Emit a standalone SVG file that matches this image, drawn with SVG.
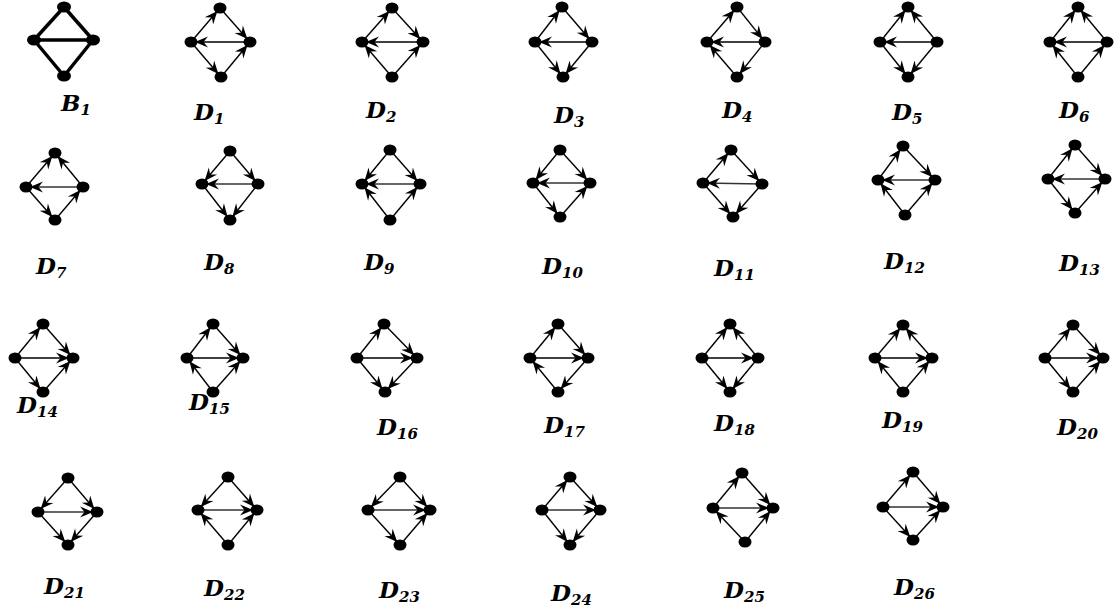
<svg xmlns="http://www.w3.org/2000/svg" width="1120" height="610" viewBox="0 0 1120 610">
<style>
.e{stroke:#000;stroke-width:1.4;fill:none;marker-end:url(#ah)}
.h{stroke:#333;stroke-width:1.4;fill:none;marker-end:url(#ah)}
.t{stroke:#000;stroke-width:3.5;fill:none}
.n{fill:#000}
.lb{font-family:"DejaVu Serif","Liberation Serif",serif;font-weight:bold;font-style:italic;font-size:23px;fill:#000}
.sb{font-size:15px}
</style>
<defs>
<marker id="ah" viewBox="-14 -7 16 14" markerWidth="16" markerHeight="14" refX="4" refY="0" orient="auto" markerUnits="userSpaceOnUse">
<path d="M0,0 L-13,-5.5 L-8.5,0 L-13,5.5 Z" fill="#000"/>
</marker>
</defs>
<g id="connectors">
<line class="t" x1="34" y1="40" x2="64" y2="7"/><line class="t" x1="64" y1="7" x2="93" y2="40"/><line class="t" x1="34" y1="40" x2="93" y2="40"/><line class="t" x1="34" y1="40" x2="64" y2="76"/><line class="t" x1="64" y1="76" x2="93" y2="40"/>
<line class="e" x1="191" y1="42" x2="220" y2="8"/><line class="e" x1="220" y1="8" x2="250" y2="42"/><line class="e" x1="250" y1="42" x2="191" y2="42"/><line class="e" x1="191" y1="42" x2="221" y2="77"/><line class="e" x1="221" y1="77" x2="250" y2="42"/>
<line class="e" x1="362" y1="42" x2="392" y2="8"/><line class="e" x1="392" y1="8" x2="423" y2="42"/><line class="e" x1="423" y1="42" x2="362" y2="42"/><line class="e" x1="392" y1="77" x2="362" y2="42"/><line class="e" x1="392" y1="77" x2="423" y2="42"/>
<line class="e" x1="535" y1="42" x2="562" y2="7"/><line class="e" x1="562" y1="7" x2="592" y2="42"/><line class="e" x1="592" y1="42" x2="535" y2="42"/><line class="e" x1="535" y1="42" x2="563" y2="77"/><line class="e" x1="592" y1="42" x2="563" y2="77"/>
<line class="e" x1="707" y1="42" x2="737" y2="7"/><line class="e" x1="737" y1="7" x2="765" y2="42"/><line class="e" x1="765" y1="42" x2="707" y2="42"/><line class="e" x1="737" y1="77" x2="707" y2="42"/><line class="e" x1="765" y1="42" x2="737" y2="77"/>
<line class="e" x1="880" y1="42" x2="908" y2="7"/><line class="e" x1="937" y1="42" x2="908" y2="7"/><line class="e" x1="937" y1="42" x2="880" y2="42"/><line class="e" x1="880" y1="42" x2="908" y2="77"/><line class="e" x1="937" y1="42" x2="908" y2="77"/>
<line class="e" x1="1050" y1="42" x2="1078" y2="7"/><line class="e" x1="1107" y1="42" x2="1078" y2="7"/><line class="e" x1="1107" y1="42" x2="1050" y2="42"/><line class="e" x1="1078" y1="77" x2="1050" y2="42"/><line class="e" x1="1078" y1="77" x2="1107" y2="42"/>
<line class="e" x1="26" y1="187" x2="55" y2="153"/><line class="e" x1="83" y1="187" x2="55" y2="153"/><line class="h" x1="83" y1="187" x2="26" y2="187"/><line class="e" x1="26" y1="187" x2="55" y2="220"/><line class="e" x1="55" y1="220" x2="83" y2="187"/>
<line class="e" x1="230" y1="151" x2="202" y2="184"/><line class="e" x1="230" y1="151" x2="258" y2="184"/><line class="h" x1="258" y1="184" x2="202" y2="184"/><line class="e" x1="202" y1="184" x2="230" y2="220"/><line class="e" x1="258" y1="184" x2="230" y2="220"/>
<line class="e" x1="390" y1="150" x2="362" y2="184"/><line class="e" x1="390" y1="150" x2="420" y2="184"/><line class="h" x1="420" y1="184" x2="362" y2="184"/><line class="e" x1="390" y1="220" x2="362" y2="184"/><line class="e" x1="390" y1="220" x2="420" y2="184"/>
<line class="e" x1="560" y1="150" x2="533" y2="183"/><line class="e" x1="560" y1="150" x2="590" y2="183"/><line class="h" x1="590" y1="183" x2="533" y2="183"/><line class="e" x1="533" y1="183" x2="560" y2="217"/><line class="e" x1="560" y1="217" x2="590" y2="183"/>
<line class="e" x1="703" y1="183" x2="731" y2="150"/><line class="e" x1="731" y1="150" x2="762" y2="184"/><line class="h" x1="762" y1="184" x2="703" y2="183"/><line class="e" x1="703" y1="183" x2="733" y2="217"/><line class="e" x1="762" y1="184" x2="733" y2="217"/>
<line class="e" x1="878" y1="180" x2="903" y2="146"/><line class="e" x1="903" y1="146" x2="935" y2="180"/><line class="h" x1="935" y1="180" x2="878" y2="180"/><line class="e" x1="905" y1="215" x2="878" y2="180"/><line class="e" x1="905" y1="215" x2="935" y2="180"/>
<line class="e" x1="1048" y1="179" x2="1075" y2="145"/><line class="e" x1="1075" y1="145" x2="1105" y2="179"/><line class="h" x1="1105" y1="179" x2="1048" y2="179"/><line class="e" x1="1048" y1="179" x2="1075" y2="213"/><line class="e" x1="1075" y1="213" x2="1105" y2="179"/>
<line class="e" x1="15" y1="358" x2="43" y2="324"/><line class="e" x1="43" y1="324" x2="73" y2="358"/><line class="e" x1="15" y1="358" x2="73" y2="358"/><line class="e" x1="15" y1="358" x2="43" y2="392"/><line class="e" x1="43" y1="392" x2="73" y2="358"/>
<line class="e" x1="187" y1="358" x2="213" y2="324"/><line class="e" x1="213" y1="324" x2="243" y2="358"/><line class="e" x1="187" y1="358" x2="243" y2="358"/><line class="e" x1="213" y1="392" x2="187" y2="358"/><line class="e" x1="213" y1="392" x2="243" y2="358"/>
<line class="e" x1="357" y1="358" x2="384" y2="324"/><line class="e" x1="384" y1="324" x2="417" y2="358"/><line class="e" x1="357" y1="358" x2="417" y2="358"/><line class="e" x1="357" y1="358" x2="385" y2="392"/><line class="e" x1="417" y1="358" x2="385" y2="392"/>
<line class="e" x1="530" y1="358" x2="558" y2="324"/><line class="e" x1="558" y1="324" x2="588" y2="358"/><line class="e" x1="530" y1="358" x2="588" y2="358"/><line class="e" x1="558" y1="392" x2="530" y2="358"/><line class="e" x1="588" y1="358" x2="558" y2="392"/>
<line class="e" x1="702" y1="358" x2="730" y2="324"/><line class="e" x1="758" y1="358" x2="730" y2="324"/><line class="e" x1="702" y1="358" x2="758" y2="358"/><line class="e" x1="702" y1="358" x2="730" y2="392"/><line class="e" x1="758" y1="358" x2="730" y2="392"/>
<line class="e" x1="875" y1="358" x2="903" y2="325"/><line class="e" x1="932" y1="358" x2="903" y2="325"/><line class="e" x1="875" y1="358" x2="932" y2="358"/><line class="e" x1="903" y1="392" x2="875" y2="358"/><line class="e" x1="903" y1="392" x2="932" y2="358"/>
<line class="e" x1="1045" y1="358" x2="1073" y2="325"/><line class="e" x1="1073" y1="325" x2="1103" y2="358"/><line class="e" x1="1045" y1="358" x2="1103" y2="358"/><line class="e" x1="1045" y1="358" x2="1073" y2="392"/><line class="e" x1="1073" y1="392" x2="1103" y2="358"/>
<line class="e" x1="68" y1="478" x2="38" y2="512"/><line class="e" x1="68" y1="478" x2="97" y2="512"/><line class="h" x1="38" y1="512" x2="97" y2="512"/><line class="e" x1="38" y1="512" x2="68" y2="545"/><line class="e" x1="97" y1="512" x2="68" y2="545"/>
<line class="e" x1="228" y1="477" x2="198" y2="510"/><line class="e" x1="228" y1="477" x2="257" y2="510"/><line class="h" x1="198" y1="510" x2="257" y2="510"/><line class="e" x1="228" y1="545" x2="198" y2="510"/><line class="e" x1="228" y1="545" x2="257" y2="510"/>
<line class="e" x1="400" y1="477" x2="368" y2="510"/><line class="e" x1="400" y1="477" x2="430" y2="510"/><line class="h" x1="368" y1="510" x2="430" y2="510"/><line class="e" x1="368" y1="510" x2="400" y2="545"/><line class="e" x1="400" y1="545" x2="430" y2="510"/>
<line class="e" x1="542" y1="510" x2="570" y2="477"/><line class="e" x1="570" y1="477" x2="600" y2="510"/><line class="h" x1="542" y1="510" x2="600" y2="510"/><line class="e" x1="542" y1="510" x2="570" y2="545"/><line class="e" x1="600" y1="510" x2="570" y2="545"/>
<line class="e" x1="713" y1="508" x2="742" y2="473"/><line class="e" x1="742" y1="473" x2="773" y2="508"/><line class="h" x1="713" y1="508" x2="773" y2="508"/><line class="e" x1="745" y1="542" x2="713" y2="508"/><line class="e" x1="745" y1="542" x2="773" y2="508"/>
<line class="e" x1="883" y1="507" x2="913" y2="472"/><line class="e" x1="913" y1="472" x2="943" y2="507"/><line class="h" x1="883" y1="507" x2="943" y2="507"/><line class="e" x1="883" y1="507" x2="913" y2="540"/><line class="e" x1="913" y1="540" x2="943" y2="507"/>
</g>
<g id="B1"><ellipse class="n" cx="64" cy="7" rx="7" ry="5.5"/><ellipse class="n" cx="34" cy="40" rx="7" ry="5.5"/><ellipse class="n" cx="93" cy="40" rx="7" ry="5.5"/><ellipse class="n" cx="64" cy="76" rx="7" ry="5.5"/><text class="lb" x="61" y="111">B<tspan class="sb" dy="4">1</tspan></text></g>
<g id="D1"><ellipse class="n" cx="220" cy="8" rx="6.5" ry="5.5"/><ellipse class="n" cx="191" cy="42" rx="6.5" ry="5.5"/><ellipse class="n" cx="250" cy="42" rx="6.5" ry="5.5"/><ellipse class="n" cx="221" cy="77" rx="6.5" ry="5.5"/><text class="lb" x="194" y="120">D<tspan class="sb" dy="4">1</tspan></text></g>
<g id="D2"><ellipse class="n" cx="392" cy="8" rx="6.5" ry="5.5"/><ellipse class="n" cx="362" cy="42" rx="6.5" ry="5.5"/><ellipse class="n" cx="423" cy="42" rx="6.5" ry="5.5"/><ellipse class="n" cx="392" cy="77" rx="6.5" ry="5.5"/><text class="lb" x="366" y="118">D<tspan class="sb" dy="4">2</tspan></text></g>
<g id="D3"><ellipse class="n" cx="562" cy="7" rx="6.5" ry="5.5"/><ellipse class="n" cx="535" cy="42" rx="6.5" ry="5.5"/><ellipse class="n" cx="592" cy="42" rx="6.5" ry="5.5"/><ellipse class="n" cx="563" cy="77" rx="6.5" ry="5.5"/><text class="lb" x="554" y="123">D<tspan class="sb" dy="4">3</tspan></text></g>
<g id="D4"><ellipse class="n" cx="737" cy="7" rx="6.5" ry="5.5"/><ellipse class="n" cx="707" cy="42" rx="6.5" ry="5.5"/><ellipse class="n" cx="765" cy="42" rx="6.5" ry="5.5"/><ellipse class="n" cx="737" cy="77" rx="6.5" ry="5.5"/><text class="lb" x="722" y="118">D<tspan class="sb" dy="4">4</tspan></text></g>
<g id="D5"><ellipse class="n" cx="908" cy="7" rx="6.5" ry="5.5"/><ellipse class="n" cx="880" cy="42" rx="6.5" ry="5.5"/><ellipse class="n" cx="937" cy="42" rx="6.5" ry="5.5"/><ellipse class="n" cx="908" cy="77" rx="6.5" ry="5.5"/><text class="lb" x="892" y="120">D<tspan class="sb" dy="4">5</tspan></text></g>
<g id="D6"><ellipse class="n" cx="1078" cy="7" rx="6.5" ry="5.5"/><ellipse class="n" cx="1050" cy="42" rx="6.5" ry="5.5"/><ellipse class="n" cx="1107" cy="42" rx="6.5" ry="5.5"/><ellipse class="n" cx="1078" cy="77" rx="6.5" ry="5.5"/><text class="lb" x="1059" y="118">D<tspan class="sb" dy="4">6</tspan></text></g>
<g id="D7"><ellipse class="n" cx="55" cy="153" rx="6.5" ry="5.5"/><ellipse class="n" cx="26" cy="187" rx="6.5" ry="5.5"/><ellipse class="n" cx="83" cy="187" rx="6.5" ry="5.5"/><ellipse class="n" cx="55" cy="220" rx="6.5" ry="5.5"/><text class="lb" x="36" y="274">D<tspan class="sb" dy="4">7</tspan></text></g>
<g id="D8"><ellipse class="n" cx="230" cy="151" rx="6.5" ry="5.5"/><ellipse class="n" cx="202" cy="184" rx="6.5" ry="5.5"/><ellipse class="n" cx="258" cy="184" rx="6.5" ry="5.5"/><ellipse class="n" cx="230" cy="220" rx="6.5" ry="5.5"/><text class="lb" x="204" y="270">D<tspan class="sb" dy="4">8</tspan></text></g>
<g id="D9"><ellipse class="n" cx="390" cy="150" rx="6.5" ry="5.5"/><ellipse class="n" cx="362" cy="184" rx="6.5" ry="5.5"/><ellipse class="n" cx="420" cy="184" rx="6.5" ry="5.5"/><ellipse class="n" cx="390" cy="220" rx="6.5" ry="5.5"/><text class="lb" x="364" y="270">D<tspan class="sb" dy="4">9</tspan></text></g>
<g id="D10"><ellipse class="n" cx="560" cy="150" rx="6.5" ry="5.5"/><ellipse class="n" cx="533" cy="183" rx="6.5" ry="5.5"/><ellipse class="n" cx="590" cy="183" rx="6.5" ry="5.5"/><ellipse class="n" cx="560" cy="217" rx="6.5" ry="5.5"/><text class="lb" x="542" y="274">D<tspan class="sb" dy="4">10</tspan></text></g>
<g id="D11"><ellipse class="n" cx="731" cy="150" rx="6.5" ry="5.5"/><ellipse class="n" cx="703" cy="183" rx="6.5" ry="5.5"/><ellipse class="n" cx="762" cy="184" rx="6.5" ry="5.5"/><ellipse class="n" cx="733" cy="217" rx="6.5" ry="5.5"/><text class="lb" x="714" y="276">D<tspan class="sb" dy="4">11</tspan></text></g>
<g id="D12"><ellipse class="n" cx="903" cy="146" rx="6.5" ry="5.5"/><ellipse class="n" cx="878" cy="180" rx="6.5" ry="5.5"/><ellipse class="n" cx="935" cy="180" rx="6.5" ry="5.5"/><ellipse class="n" cx="905" cy="215" rx="6.5" ry="5.5"/><text class="lb" x="884" y="269">D<tspan class="sb" dy="4">12</tspan></text></g>
<g id="D13"><ellipse class="n" cx="1075" cy="145" rx="6.5" ry="5.5"/><ellipse class="n" cx="1048" cy="179" rx="6.5" ry="5.5"/><ellipse class="n" cx="1105" cy="179" rx="6.5" ry="5.5"/><ellipse class="n" cx="1075" cy="213" rx="6.5" ry="5.5"/><text class="lb" x="1059" y="271">D<tspan class="sb" dy="4">13</tspan></text></g>
<g id="D14"><ellipse class="n" cx="43" cy="324" rx="6.5" ry="5.5"/><ellipse class="n" cx="15" cy="358" rx="6.5" ry="5.5"/><ellipse class="n" cx="73" cy="358" rx="6.5" ry="5.5"/><ellipse class="n" cx="43" cy="392" rx="6.5" ry="5.5"/><text class="lb" x="17" y="413">D<tspan class="sb" dy="4">14</tspan></text></g>
<g id="D15"><ellipse class="n" cx="213" cy="324" rx="6.5" ry="5.5"/><ellipse class="n" cx="187" cy="358" rx="6.5" ry="5.5"/><ellipse class="n" cx="243" cy="358" rx="6.5" ry="5.5"/><ellipse class="n" cx="213" cy="392" rx="6.5" ry="5.5"/><text class="lb" x="189" y="410">D<tspan class="sb" dy="4">15</tspan></text></g>
<g id="D16"><ellipse class="n" cx="384" cy="324" rx="6.5" ry="5.5"/><ellipse class="n" cx="357" cy="358" rx="6.5" ry="5.5"/><ellipse class="n" cx="417" cy="358" rx="6.5" ry="5.5"/><ellipse class="n" cx="385" cy="392" rx="6.5" ry="5.5"/><text class="lb" x="377" y="435">D<tspan class="sb" dy="4">16</tspan></text></g>
<g id="D17"><ellipse class="n" cx="558" cy="324" rx="6.5" ry="5.5"/><ellipse class="n" cx="530" cy="358" rx="6.5" ry="5.5"/><ellipse class="n" cx="588" cy="358" rx="6.5" ry="5.5"/><ellipse class="n" cx="558" cy="392" rx="6.5" ry="5.5"/><text class="lb" x="544" y="433">D<tspan class="sb" dy="4">17</tspan></text></g>
<g id="D18"><ellipse class="n" cx="730" cy="324" rx="6.5" ry="5.5"/><ellipse class="n" cx="702" cy="358" rx="6.5" ry="5.5"/><ellipse class="n" cx="758" cy="358" rx="6.5" ry="5.5"/><ellipse class="n" cx="730" cy="392" rx="6.5" ry="5.5"/><text class="lb" x="714" y="431">D<tspan class="sb" dy="4">18</tspan></text></g>
<g id="D19"><ellipse class="n" cx="903" cy="325" rx="6.5" ry="5.5"/><ellipse class="n" cx="875" cy="358" rx="6.5" ry="5.5"/><ellipse class="n" cx="932" cy="358" rx="6.5" ry="5.5"/><ellipse class="n" cx="903" cy="392" rx="6.5" ry="5.5"/><text class="lb" x="882" y="428">D<tspan class="sb" dy="4">19</tspan></text></g>
<g id="D20"><ellipse class="n" cx="1073" cy="325" rx="6.5" ry="5.5"/><ellipse class="n" cx="1045" cy="358" rx="6.5" ry="5.5"/><ellipse class="n" cx="1103" cy="358" rx="6.5" ry="5.5"/><ellipse class="n" cx="1073" cy="392" rx="6.5" ry="5.5"/><text class="lb" x="1057" y="435">D<tspan class="sb" dy="4">20</tspan></text></g>
<g id="D21"><ellipse class="n" cx="68" cy="478" rx="6.5" ry="5.5"/><ellipse class="n" cx="38" cy="512" rx="6.5" ry="5.5"/><ellipse class="n" cx="97" cy="512" rx="6.5" ry="5.5"/><ellipse class="n" cx="68" cy="545" rx="6.5" ry="5.5"/><text class="lb" x="44" y="594">D<tspan class="sb" dy="4">21</tspan></text></g>
<g id="D22"><ellipse class="n" cx="228" cy="477" rx="6.5" ry="5.5"/><ellipse class="n" cx="198" cy="510" rx="6.5" ry="5.5"/><ellipse class="n" cx="257" cy="510" rx="6.5" ry="5.5"/><ellipse class="n" cx="228" cy="545" rx="6.5" ry="5.5"/><text class="lb" x="204" y="596">D<tspan class="sb" dy="4">22</tspan></text></g>
<g id="D23"><ellipse class="n" cx="400" cy="477" rx="6.5" ry="5.5"/><ellipse class="n" cx="368" cy="510" rx="6.5" ry="5.5"/><ellipse class="n" cx="430" cy="510" rx="6.5" ry="5.5"/><ellipse class="n" cx="400" cy="545" rx="6.5" ry="5.5"/><text class="lb" x="379" y="598">D<tspan class="sb" dy="4">23</tspan></text></g>
<g id="D24"><ellipse class="n" cx="570" cy="477" rx="6.5" ry="5.5"/><ellipse class="n" cx="542" cy="510" rx="6.5" ry="5.5"/><ellipse class="n" cx="600" cy="510" rx="6.5" ry="5.5"/><ellipse class="n" cx="570" cy="545" rx="6.5" ry="5.5"/><text class="lb" x="551" y="601">D<tspan class="sb" dy="4">24</tspan></text></g>
<g id="D25"><ellipse class="n" cx="742" cy="473" rx="6.5" ry="5.5"/><ellipse class="n" cx="713" cy="508" rx="6.5" ry="5.5"/><ellipse class="n" cx="773" cy="508" rx="6.5" ry="5.5"/><ellipse class="n" cx="745" cy="542" rx="6.5" ry="5.5"/><text class="lb" x="724" y="598">D<tspan class="sb" dy="4">25</tspan></text></g>
<g id="D26"><ellipse class="n" cx="913" cy="472" rx="6.5" ry="5.5"/><ellipse class="n" cx="883" cy="507" rx="6.5" ry="5.5"/><ellipse class="n" cx="943" cy="507" rx="6.5" ry="5.5"/><ellipse class="n" cx="913" cy="540" rx="6.5" ry="5.5"/><text class="lb" x="894" y="595">D<tspan class="sb" dy="4">26</tspan></text></g>
</svg>
